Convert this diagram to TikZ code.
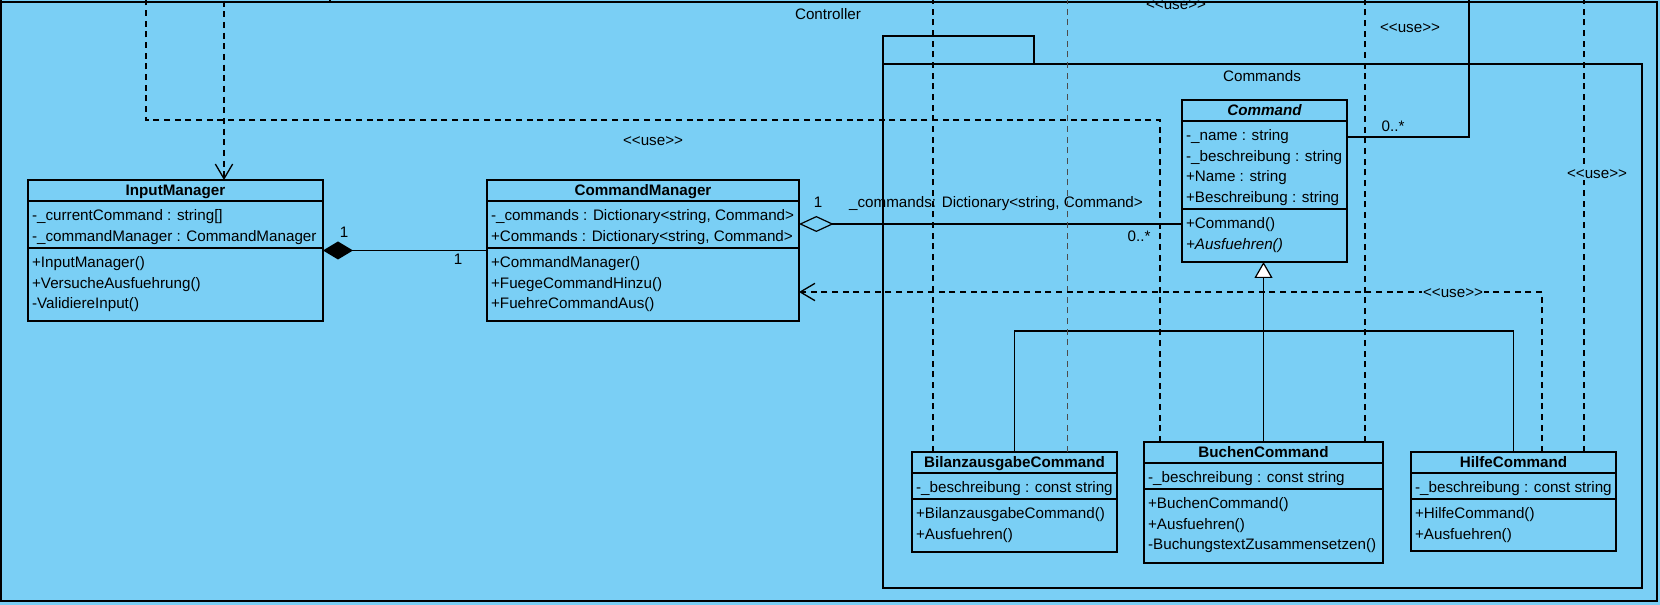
\documentclass[tikz,border=0pt]{standalone}
\usepackage{fontspec}
\setmainfont{Liberation Sans}[Ligatures=TeXOff]
\usetikzlibrary{arrows.meta,calc}
\definecolor{pkgblue}{RGB}{122,207,245}

\begin{document}
\begin{tikzpicture}[x=0.75pt,y=-0.75pt,line width=0.9pt,
    font=\fontsize{11.4}{14}\selectfont,
    classbox/.style={draw,fill=pkgblue,anchor=north west,inner sep=0pt,outer sep=0pt},
    classname/.style={font=\fontsize{11.4}{14}\selectfont\bfseries,inner sep=0pt,text height=8pt,text depth=0pt},
    member/.style={anchor=west,inner sep=0pt,text height=8pt,text depth=0pt},
    mult/.style={inner sep=0pt,text height=8pt,text depth=0pt},
    usedash/.style={line width=1pt,dash pattern=on 4.5pt off 3.5pt},
    usearrow/.style={usedash,-{Straight Barb[length=11pt,width=13pt]}},
    uselabel/.style={fill=pkgblue,inner sep=1pt,text height=8pt,text depth=0pt}]

    \useasboundingbox (0,0) rectangle (1660,605);
    \clip (0,0) rectangle (1660,605);
    \fill[pkgblue] (0,0) rectangle (1660,605);

    % 外层包 Controller
    \draw (1,-10) -- (1,601) -- (1657,601) -- (1657,2) -- (1,2);
    \draw (330,-10) -- (330,2);
    \node[mult] (ctrlname) at (828,14) {Controller};

    % 内层包 Commands
    \draw (883,36) rectangle (1034,64);
    \draw (883,64) rectangle (1642,588);
    \node[mult] (cmdsname) at (1262,76) {Commands};

    % 类框与分隔线
    \foreach \n/\x/\y/\w/\h/\s in {im/28/180/295/141/68, cm/487/180/312/141/68,
        cmd/1182/100/165/162/109, bilanz/912/452/205/100/47,
        buchen/1144/442/239/121/47, hilfe/1411/452/205/99/47} {
        \node[classbox,minimum width=\w*0.75pt,minimum height=\h*0.75pt] (\n) at (\x,\y) {};
        \draw (\n.north west) ++(0,21) -- +(\w,0);
        \draw (\n.north west) ++(0,\s) -- +(\w,0);
    }

    % 类名
    \node[classname] (imname) at ($(im.north)+(0,10.5)$) {InputManager};
    \node[classname] (cmname) at ($(cm.north)+(0,10.5)$) {CommandManager};
    \node[classname,font=\fontsize{11.4}{14}\selectfont\bfseries\itshape] (cmdname) at ($(cmd.north)+(0,10.5)$) {Command};
    \node[classname] (bilanzname) at ($(bilanz.north)+(0,10.5)$) {BilanzausgabeCommand};
    \node[classname] (buchenname) at ($(buchen.north)+(0,10.5)$) {BuchenCommand};
    \node[classname] (hilfename) at ($(hilfe.north)+(0,10.5)$) {HilfeCommand};

    % 属性与方法
    \foreach \t [count=\i from 0] in {{-\_currentCommand : string[]},{-\_commandManager : CommandManager}}
        \node[member] (imA\i) at ($(im.north west)+(3.5,35+20.75*\i)$) {\t};
    \foreach \t [count=\i from 0] in {+InputManager(),+VersucheAusfuehrung(),-ValidiereInput()}
        \node[member] (imM\i) at ($(im.north west)+(3.5,82+20.75*\i)$) {\t};
    \foreach \t [count=\i from 0] in {{-\_commands : Dictionary<string, Command>},{+Commands : Dictionary<string, Command>}}
        \node[member] (cmA\i) at ($(cm.north west)+(3.5,35+20.75*\i)$) {\t};
    \foreach \t [count=\i from 0] in {+CommandManager(),+FuegeCommandHinzu(),+FuehreCommandAus()}
        \node[member] (cmM\i) at ($(cm.north west)+(3.5,82+20.75*\i)$) {\t};
    \foreach \t [count=\i from 0] in {-\_name : string,-\_beschreibung : string,+Name : string,+Beschreibung : string}
        \node[member] (cmdA\i) at ($(cmd.north west)+(3.5,35+20.75*\i)$) {\t};
    \foreach \t [count=\i from 0] in {+Command(),\textit{+Ausfuehren()}}
        \node[member] (cmdM\i) at ($(cmd.north west)+(3.5,123+20.75*\i)$) {\t};
    \node[member] (bilanzA0) at ($(bilanz.north west)+(3.5,35)$) {-\_beschreibung : const string};
    \foreach \t [count=\i from 0] in {+BilanzausgabeCommand(),+Ausfuehren()}
        \node[member] (bilanzM\i) at ($(bilanz.north west)+(3.5,61+20.75*\i)$) {\t};
    \node[member] (buchenA0) at ($(buchen.north west)+(3.5,35)$) {-\_beschreibung : const string};
    \foreach \t [count=\i from 0] in {+BuchenCommand(),+Ausfuehren(),-BuchungstextZusammensetzen()}
        \node[member] (buchenM\i) at ($(buchen.north west)+(3.5,61+20.75*\i)$) {\t};
    \node[member] (hilfeA0) at ($(hilfe.north west)+(3.5,35)$) {-\_beschreibung : const string};
    \foreach \t [count=\i from 0] in {+HilfeCommand(),+Ausfuehren()}
        \node[member] (hilfeM\i) at ($(hilfe.north west)+(3.5,61+20.75*\i)$) {\t};

    % 组合与聚合
    \draw[line width=1.1pt,{Diamond[length=22.5pt,width=13.5pt]}-] (im.east) -- (cm.west);
    \node[mult] (imone) at (344,232) {1};
    \node[mult] (cmone) at (458,259) {1};
    \coordinate (aggL) at ($(cm.north east)+(0,44)$);
    \draw[{Diamond[open,length=26pt,width=12pt]}-] (aggL) -- (aggL -| cmd.west);
    \node[mult] (aggone) at (818,202) {1};
    \node[mult] (aggname) at (996,202) {\_commands: Dictionary<string, Command>};
    \node[mult] (aggmany) at (1139,236) {0..*};

    % 泛化
    \coordinate (genbar) at (1265,331);
    \draw[line width=1.3pt,-{Triangle[length=12pt,width=13.5pt,fill=white,line width=0.9pt]}] (buchen.north) -- (buchen.north |- cmd.south);
    \draw[line width=1.3pt] (bilanz.north) |- (genbar) -| (hilfe.north);

    % 向上方的关联
    \coordinate (cmdassoc) at ($(cmd.north east)+(0,37)$);
    \coordinate (assoctop) at (1469,-10);
    \draw[line width=1.1pt] (cmdassoc) -| (assoctop);
    \node[mult] (assocmany) at (1393,126) {0..*};

    % 依赖 <<use>>
    \coordinate (imtop) at (224,-10);
    \draw[usearrow] (imtop) -- (imtop |- im.north);
    \coordinate (buchentop) at (146,-10);
    \coordinate (buchenbend) at (146,120);
    \draw[usedash] ($(buchen.north west)+(16,0)$) |- (buchenbend) -- (buchentop);
    \draw[usedash] ($(bilanz.north west)+(21,0)$) -- +(0,-470);
    \draw[usedash,line width=0.7pt,black!70] ($(bilanz.north west)+(155,0)$) -- +(0,-470);
    \draw[usedash] ($(buchen.north east)+(-18,0)$) -- +(0,-460);
    \draw[usedash] ($(hilfe.north east)+(-32,0)$) -- +(0,-470);
    \coordinate (cmuse) at ($(cm.north east)+(0,112)$);
    \draw[usearrow] ($(hilfe.north west)+(131,0)$) |- (cmuse);

    \node[uselabel] (useA) at (653,140) {<<use>>};
    \node[uselabel] (useB) at (1410,27) {<<use>>};
    \node[uselabel,fill=none] (useC) at (1176,4) {<<use>>};
    \node[uselabel] (useD) at (1597,173) {<<use>>};
    \node[uselabel] (useE) at (1453,292) {<<use>>};
\end{tikzpicture}
\end{document}
